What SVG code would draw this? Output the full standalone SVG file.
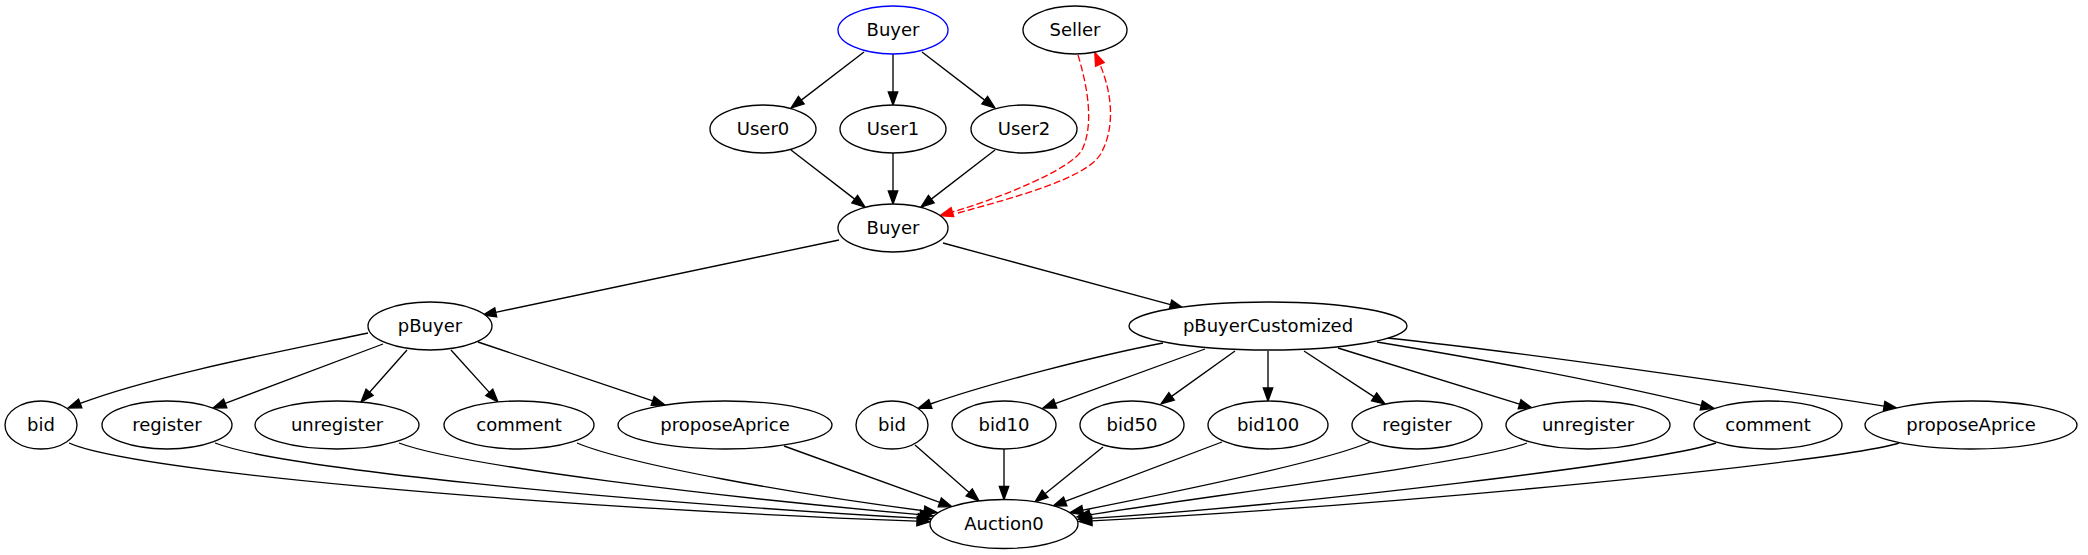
<svg xmlns="http://www.w3.org/2000/svg" width="2088" height="555" viewBox="0 0 2088 555">
<style>
.n ellipse{fill:#fff;stroke:#000;stroke-width:1.33}
.n text{font-family:"DejaVu Sans","Liberation Sans",sans-serif;font-size:18px;text-anchor:middle;fill:#000}
.e path{fill:none;stroke:#000;stroke-width:1.33;marker-end:url(#ah)}
.e path.r{stroke:#f00;stroke-dasharray:7,3;marker-end:url(#ahr)}
</style>
<defs>
<marker id="ah" markerUnits="userSpaceOnUse" orient="auto" refX="0" refY="0" overflow="visible"><path d="M0,-4.7 L13,0 L0,4.7 Z" fill="#000" stroke="#000" stroke-width="1.33"/></marker>
<marker id="ahr" markerUnits="userSpaceOnUse" orient="auto" refX="0" refY="0" overflow="visible"><path d="M0,-4.7 L13,0 L0,4.7 Z" fill="#f00" stroke="#f00" stroke-width="1.33"/></marker>
</defs>
<rect width="2088" height="555" fill="#fff"/>
<g id="edges" class="e">
<path d="M864,52 L801.3,100.1"/>
<path d="M893,54 L893,92"/>
<path d="M922,52 L984.7,100.1"/>
<path d="M791,150 L854.7,199.1"/>
<path d="M893,153 L893,191"/>
<path d="M995,150 L931.3,199.1"/>
<path class="r" d="M1078,55 C1088,88 1094,125 1082,150 C1070,170 1000,198 952.4,212"/>
<path class="r" d="M958,213 C1020,196 1085,178 1100,155 C1115,130 1113,95 1099.9,64.4"/>
<path d="M839,240 L495.7,312.3"/>
<path d="M943,243 L1170.5,304.6"/>
<path d="M368,333 C288,350 155,375 80.2,403.4"/>
<path d="M383,344 L225.2,403.4"/>
<path d="M407,350 L369.6,392.3"/>
<path d="M451,350 L489.3,392.4"/>
<path d="M478,342 L652.7,400.9"/>
<path d="M1163,343 C1100,355 990,383 930.4,404"/>
<path d="M1205,349 L1055.2,403.6"/>
<path d="M1235,351 L1171.6,396.4"/>
<path d="M1268,351 L1268,388"/>
<path d="M1304,351 L1374.1,396.9"/>
<path d="M1338,348 L1519.6,404.2"/>
<path d="M1377,342 C1480,359 1600,381 1701.3,405.3"/>
<path d="M1387,338 C1520,352 1750,385 1884.1,406.1"/>
<path d="M69,443 C130,470 500,505 917,521.2"/>
<path d="M215,443 C280,468 600,500 918.1,518.2"/>
<path d="M399,443 C460,466 720,497 920.1,514.7"/>
<path d="M577,443 C630,465 800,495 924.2,510.8"/>
<path d="M784,446 L939.8,502.4"/>
<path d="M915,445 L969.2,492.4"/>
<path d="M1004,449 L1004,486.5"/>
<path d="M1103,447 L1045.1,493.8"/>
<path d="M1222,442 L1065.2,501.4"/>
<path d="M1370,442 C1330,460 1170,493 1082.7,510.2"/>
<path d="M1527,443 C1480,462 1200,497 1089.8,514.8"/>
<path d="M1716,443 C1660,462 1300,505 1090.9,518.4"/>
<path d="M1899,443 C1840,462 1400,505 1091.9,520.8"/>
</g>
<g id="node-buyer-top" class="n"><ellipse cx="893" cy="30" rx="55" ry="24" style="stroke:#00f"/><text x="893" y="36">Buyer</text></g>
<g id="node-seller" class="n"><ellipse cx="1075" cy="30" rx="52" ry="24"/><text x="1075" y="36">Seller</text></g>
<g id="node-user0" class="n"><ellipse cx="763" cy="129" rx="53" ry="24"/><text x="763" y="135">User0</text></g>
<g id="node-user1" class="n"><ellipse cx="893" cy="129" rx="53" ry="24"/><text x="893" y="135">User1</text></g>
<g id="node-user2" class="n"><ellipse cx="1024" cy="129" rx="53" ry="24"/><text x="1024" y="135">User2</text></g>
<g id="node-buyer" class="n"><ellipse cx="893" cy="228" rx="55" ry="24"/><text x="893" y="234">Buyer</text></g>
<g id="node-pbuyer" class="n"><ellipse cx="430" cy="326" rx="62" ry="24"/><text x="430" y="332">pBuyer</text></g>
<g id="node-pbuyercustomized" class="n"><ellipse cx="1268" cy="326" rx="139" ry="24"/><text x="1268" y="332">pBuyerCustomized</text></g>
<g id="node-bid-a" class="n"><ellipse cx="41" cy="425" rx="36" ry="24"/><text x="41" y="431">bid</text></g>
<g id="node-register-a" class="n"><ellipse cx="167" cy="425" rx="65" ry="24"/><text x="167" y="431">register</text></g>
<g id="node-unregister-a" class="n"><ellipse cx="337" cy="425" rx="82" ry="24"/><text x="337" y="431">unregister</text></g>
<g id="node-comment-a" class="n"><ellipse cx="519" cy="425" rx="75" ry="24"/><text x="519" y="431">comment</text></g>
<g id="node-proposeaprice-a" class="n"><ellipse cx="725" cy="425" rx="107" ry="24"/><text x="725" y="431">proposeAprice</text></g>
<g id="node-bid-b" class="n"><ellipse cx="892" cy="425" rx="36" ry="24"/><text x="892" y="431">bid</text></g>
<g id="node-bid10" class="n"><ellipse cx="1004" cy="425" rx="52" ry="24"/><text x="1004" y="431">bid10</text></g>
<g id="node-bid50" class="n"><ellipse cx="1132" cy="425" rx="52" ry="24"/><text x="1132" y="431">bid50</text></g>
<g id="node-bid100" class="n"><ellipse cx="1268" cy="425" rx="60" ry="24"/><text x="1268" y="431">bid100</text></g>
<g id="node-register-b" class="n"><ellipse cx="1417" cy="425" rx="65" ry="24"/><text x="1417" y="431">register</text></g>
<g id="node-unregister-b" class="n"><ellipse cx="1588" cy="425" rx="82" ry="24"/><text x="1588" y="431">unregister</text></g>
<g id="node-comment-b" class="n"><ellipse cx="1768" cy="425" rx="74" ry="24"/><text x="1768" y="431">comment</text></g>
<g id="node-proposeaprice-b" class="n"><ellipse cx="1971" cy="425" rx="106" ry="24"/><text x="1971" y="431">proposeAprice</text></g>
<g id="node-auction0" class="n"><ellipse cx="1004" cy="524" rx="74" ry="24.5"/><text x="1004" y="530">Auction0</text></g>
</svg>
